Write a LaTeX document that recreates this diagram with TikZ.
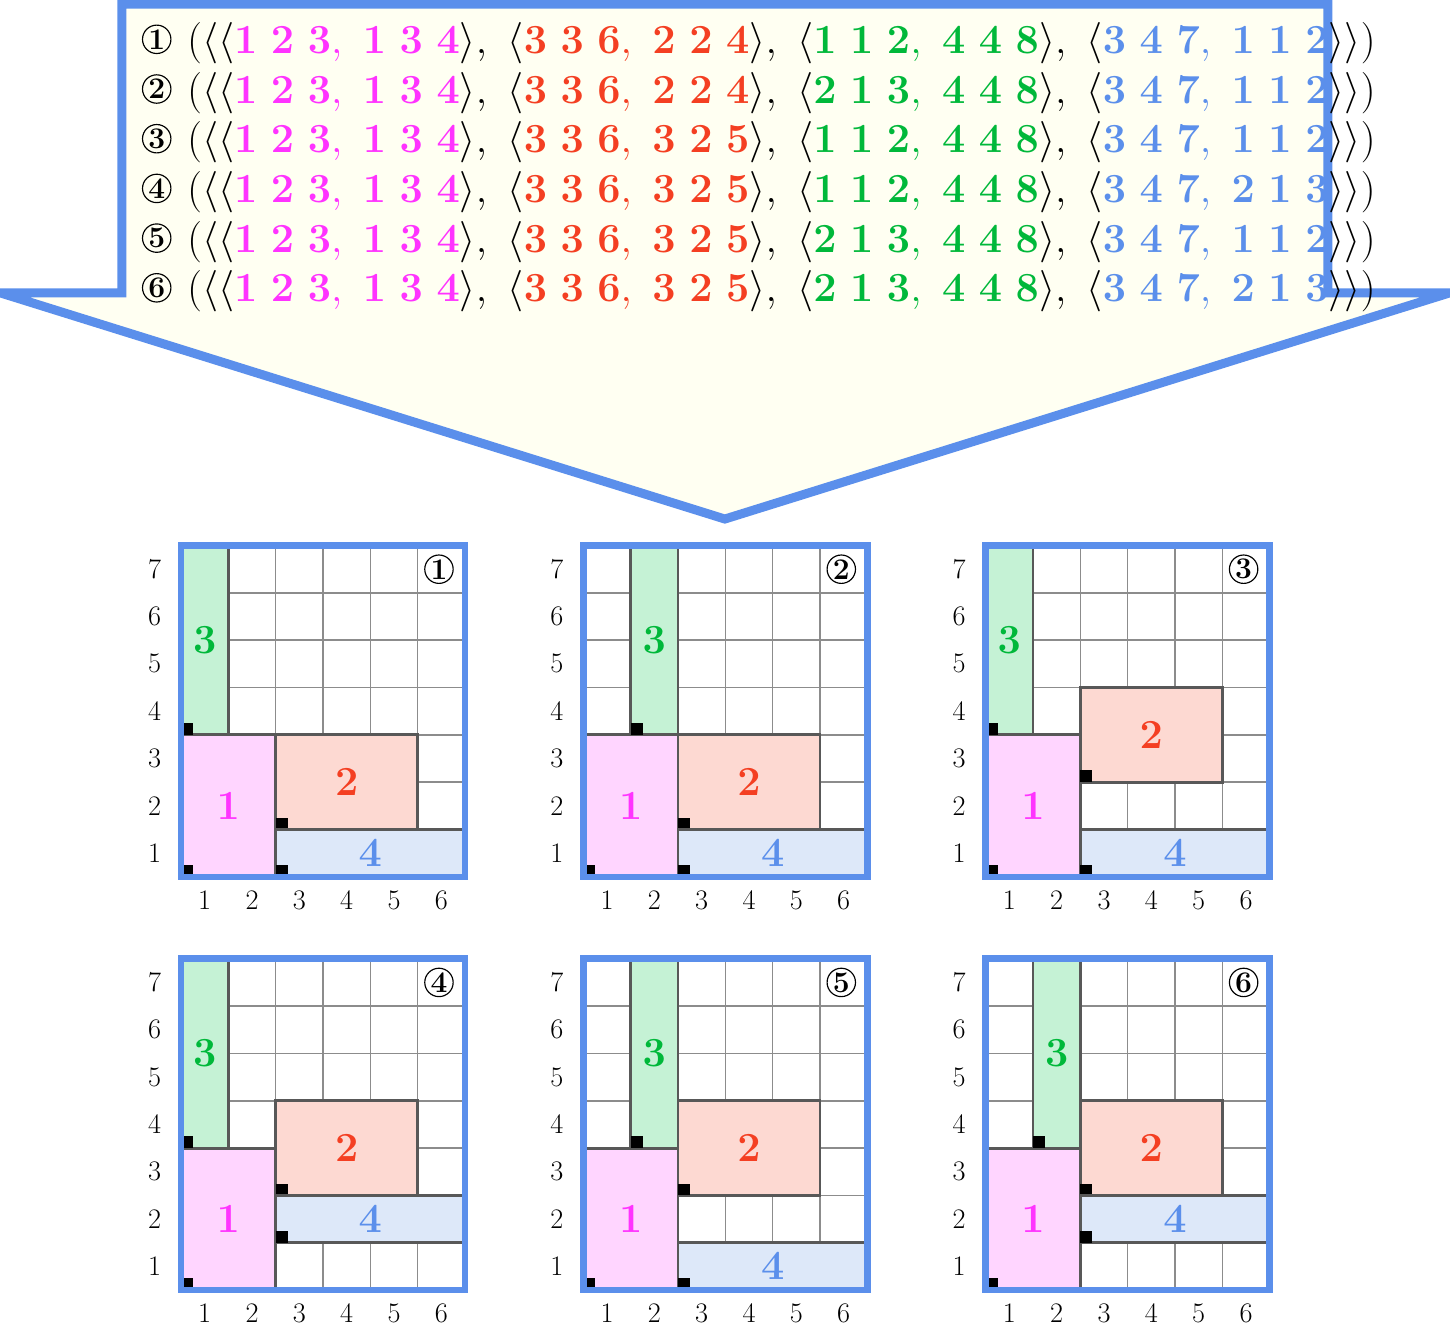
\documentclass[tikz,border=0pt]{standalone}
\usepackage{amsmath}
\usepackage{tikz}

\definecolor{frameblue}{HTML}{5B8FEB}
\definecolor{ivory}{HTML}{FFFFF2}
\definecolor{magtext}{HTML}{FF33FF}
\definecolor{magfill}{HTML}{FFD5FF}
\definecolor{redtext}{HTML}{F43F22}
\definecolor{redfill}{HTML}{FDD9D2}
\definecolor{greentext}{HTML}{00B83A}
\definecolor{greenfill}{HTML}{C5F2D5}
\definecolor{bluetext}{HTML}{5B8FEB}
\definecolor{bluefill}{HTML}{DDE8F9}
\definecolor{edgegray}{HTML}{585858}
\definecolor{gridgray}{HTML}{8C8C8C}

\newcommand{\trip}[3]{\mathbf{#1}\ \mathbf{#2}\ \mathbf{#3}}
\newcommand{\blk}[7]{\langle{\color{#1}\trip{#2}{#3}{#4},\ \trip{#5}{#6}{#7}}\rangle}

\tikzset{
  frame/.style={draw=frameblue,line width=4pt},
  block/.style={draw=edgegray,line width=1.8pt},
  lbl/.style={font=\fontsize{26}{30}\selectfont},
  axis/.style={font=\fontsize{17}{20}\selectfont,inner sep=0pt},
  cnum/.style={circle,draw,line width=0.7pt,inner sep=0pt,minimum size=0.6cm,font=\fontsize{18}{20}\selectfont\bfseries},
  tuple/.style={anchor=base west,inner sep=0pt,font=\fontsize{27}{30}\selectfont}
}

\begin{document}
\begin{tikzpicture}
        \useasboundingbox (-3.824,-0.972) rectangle (26.81,27.256);
        \filldraw[draw=frameblue,fill=ivory,line width=5.4pt] (-3.824,21.07) -- (-1.247,21.07) -- (-1.247,27.17)
        -- (24.23,27.17) -- (24.23,21.07) -- (26.81,21.07) -- (11.49,16.29) -- cycle;
        \foreach \n/\px/\py/\gx/\ry/\by in {1/0/8.73/1/2/1, 2/8.5/8.73/2/2/1, 3/17/8.73/1/3/1,
            4/0/0/1/3/2, 5/8.5/0/2/3/1, 6/17/0/2/3/2} {
          \pgfmathtruncatemacro{\gxe}{\gx+1}
          \pgfmathtruncatemacro{\rye}{\ry+2}
          \pgfmathtruncatemacro{\bye}{\by+1}
          % tuple line
          \node[cnum] (c\n) at (-0.513,{26.425-1.05*(\n-1)}) {\n};
          \node[tuple] (t\n) at (0.127,{26.129-1.05*(\n-1)})
          {$(\langle\blk{magtext}{1}{2}{3}{1}{3}{4},\ \blk{redtext}{3}{3}{6}{\ry}{2}{\rye},\
            \blk{greentext}{\gx}{1}{\gxe}{4}{4}{8},\ \blk{bluetext}{3}{4}{7}{\by}{1}{\bye}\rangle)$};
          % board
          \begin{scope}[shift={(\px,\py)}]
            \draw[gridgray,line width=0.9pt] (0,0) grid (6,7);
            \filldraw[block,fill=magfill] (0,0) rectangle (2,3);
            \fill (0,0) rectangle +(0.25,0.25);
            \filldraw[block,fill=redfill] (2,\ry-1) rectangle (5,\ry+1);
            \fill (2,\ry-1) rectangle +(0.25,0.25);
            \filldraw[block,fill=greenfill] (\gx-1,3) rectangle (\gx,7);
            \fill (\gx-1,3) rectangle +(0.25,0.25);
            \filldraw[block,fill=bluefill] (2,\by-1) rectangle (6,\by);
            \fill (2,\by-1) rectangle +(0.25,0.25);
            \node[lbl,text=magtext] (a\n) at (1,1.5) {$\mathbf{1}$};
            \node[lbl,text=redtext] (b\n) at (3.5,\ry) {$\mathbf{2}$};
            \node[lbl,text=greentext] (g\n) at (\gx-0.5,5) {$\mathbf{3}$};
            \node[lbl,text=bluetext] (d\n) at (4,\by-0.5) {$\mathbf{4}$};
            \draw[frame] (0,0) rectangle (6,7);
            \node[cnum] (n\n) at (5.45,6.5) {\n};
            \foreach \i in {1,...,6}
              \node[axis] (x\n-\i) at (\i-0.5,-0.49) {\i};
            \foreach \j in {1,...,7}
              \node[axis] (y\n-\j) at (-0.56,\j-0.5) {\j};
          \end{scope}
        }
      \end{tikzpicture}
\end{document}
